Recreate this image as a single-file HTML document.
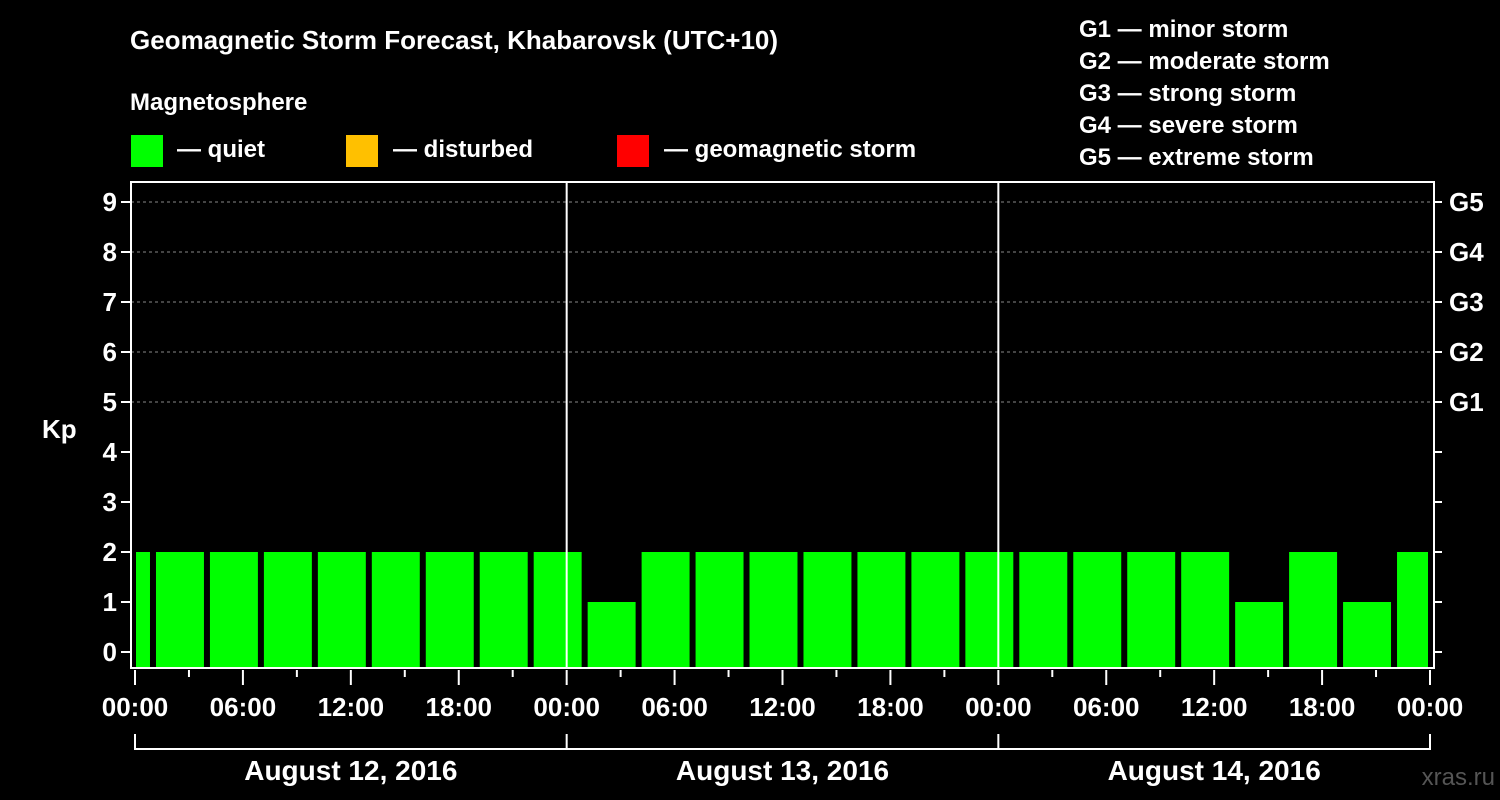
<!DOCTYPE html>
<html><head><meta charset="utf-8"><style>
html,body{margin:0;padding:0;background:#000;}
svg{display:block;font-family:"Liberation Sans",Arial,sans-serif;font-weight:bold;}
</style></head><body>
<svg id="chart" width="1500" height="800" viewBox="0 0 1500 800">
<rect x="0" y="0" width="1500" height="800" fill="#000"/>
<text x="130" y="49" fill="#fff" font-size="26">Geomagnetic Storm Forecast, Khabarovsk (UTC+10)</text>
<text x="130" y="110" fill="#fff" font-size="24">Magnetosphere</text>
<g><rect x="131" y="135" width="32" height="32" fill="#00ff00"/><text x="177" y="157" fill="#fff" font-size="24">— quiet</text></g>
<g><rect x="346" y="135" width="32" height="32" fill="#ffc000"/><text x="393" y="157" fill="#fff" font-size="24">— disturbed</text></g>
<g><rect x="617" y="135" width="32" height="32" fill="#ff0000"/><text x="664" y="157" fill="#fff" font-size="24">— geomagnetic storm</text></g>
<g fill="#fff" font-size="24">
<text x="1079" y="37">G1 — minor storm</text>
<text x="1079" y="69">G2 — moderate storm</text>
<text x="1079" y="101">G3 — strong storm</text>
<text x="1079" y="133">G4 — severe storm</text>
<text x="1079" y="165">G5 — extreme storm</text>
</g>
<text x="42" y="438" fill="#fff" font-size="26">Kp</text>
<text x="1495" y="785" fill="#555" font-size="24" text-anchor="end" font-weight="normal">xras.ru</text>
<g id="plot"></g>
</svg>
<script>
const kpValues=[2,2,2,2,2,2,2,2,2,1,2,2,2,2,2,2,2,2,2,2,2,1,2,1,2];
const binStartHours=-2; // first 3h bin begins 22:00 previous day
const dayLabels=["August 12, 2016","August 13, 2016","August 14, 2016"];
const hourLabels=["00:00","06:00","12:00","18:00"];
const gLabels=["G1","G2","G3","G4","G5"];
const NS="http://www.w3.org/2000/svg";
const X0=135,X1=1430,HPX=(X1-X0)/72;
const xs=h=>X0+h*HPX;
const ys=k=>652-50*k;
const PL=131,PR=1434,PT=182,PB=668;
const plot=document.getElementById('plot');
function mk(tag,at,parent){const e=document.createElementNS(NS,tag);for(const k in at)e.setAttribute(k,at[k]);(parent||plot).appendChild(e);return e;}
// grid
for(let k=5;k<=9;k++){const l=mk('line',{x1:PL,x2:PR,y1:ys(k),y2:ys(k),stroke:'#888','stroke-width':1,'stroke-dasharray':'3,3'});

}
// bars
kpValues.forEach((v,i)=>{const h0=binStartHours+3*i,h1=h0+3;
let a=xs(h0)+3,b=xs(h1)-3;a=Math.max(a,X0+1);b=Math.min(b,X1-2);
const c=v>=5?'#ff0000':(v>=4?'#ffc000':'#00ff00');
const r=mk('rect',{x:a,y:ys(v),width:b-a,height:PB-ys(v),fill:c});

});
// day separators
for(let d=1;d<3;d++){const l=mk('line',{x1:xs(24*d),x2:xs(24*d),y1:PT,y2:PB,stroke:'#fff','stroke-width':2});

}
// frame
const fr=mk('rect',{x:PL,y:PT,width:PR-PL,height:PB-PT,fill:'none',stroke:'#fff','stroke-width':2});


// y ticks
for(let k=0;k<=9;k++){
mk('line',{x1:PL-10,x2:PL,y1:ys(k),y2:ys(k),stroke:'#fff','stroke-width':2});
mk('line',{x1:PR,x2:PR+8,y1:ys(k),y2:ys(k),stroke:'#fff','stroke-width':2});
const t=mk('text',{x:PL-14,y:ys(k)+9,fill:'#fff','font-size':26,'text-anchor':'end'});t.textContent=k;

}
gLabels.forEach((g,i)=>{const t=mk('text',{x:1449,y:ys(5+i)+9,fill:'#fff','font-size':26});t.textContent=g;

});
// x ticks
for(let h=0;h<=72;h+=3){const maj=h%6===0;
mk('line',{x1:xs(h),x2:xs(h),y1:PB+2,y2:PB+(maj?17:9),stroke:'#fff','stroke-width':2});
if(maj){const t=mk('text',{x:xs(h),y:716,fill:'#fff','font-size':26,'text-anchor':'middle'});t.textContent=hourLabels[(h/6)%4];

}}
// day brackets
mk('path',{d:`M${X0},734 V749 H${X1} V734 M${xs(24)},734 V749 M${xs(48)},734 V749`,stroke:'#fff','stroke-width':2,fill:'none'});
dayLabels.forEach((d,i)=>{const t=mk('text',{x:xs(24*i+12),y:780,fill:'#fff','font-size':28,'text-anchor':'middle'});t.textContent=d;

});
</script>
</body></html>
